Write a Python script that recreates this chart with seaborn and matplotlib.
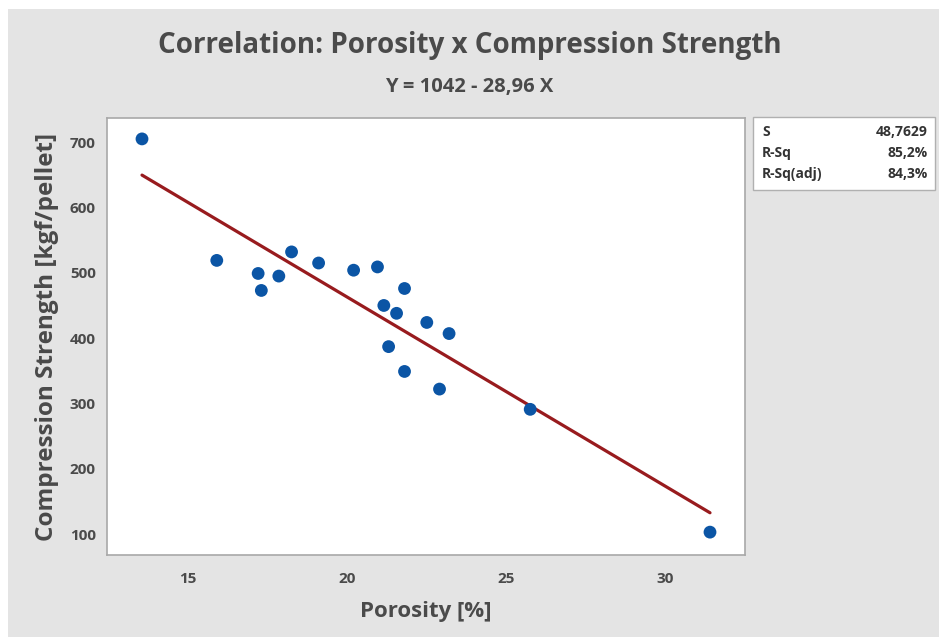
import numpy as np
import pandas as pd
import matplotlib
matplotlib.use("Agg")
import matplotlib.pyplot as plt
from matplotlib.patches import Rectangle
import seaborn as sns

# values
porosity = [13.55, 15.9, 17.2, 17.3, 17.85, 18.25, 19.1, 20.2, 20.95, 21.15,
            21.55, 21.8, 21.3, 21.8, 22.5, 23.2, 22.9, 25.75, 31.4]
strength = [705, 519, 499, 473, 495, 532, 515, 504, 509, 450,
            438, 476, 387, 349, 424, 407, 322, 291, 103]

intercept = 1042
slope = -28.96
stat_names = ["S", "R-Sq", "R-Sq(adj)"]
stat_values = ["48,7629", "85,2%", "84,3%"]

xticks = [15, 20, 25, 30]
yticks = [100, 200, 300, 400, 500, 600, 700]

df = pd.DataFrame({"porosity": porosity, "strength": strength})
x_fit = np.array([min(porosity), max(porosity)])
fit = pd.DataFrame({"porosity": x_fit, "strength": intercept + slope * x_fit})

sns.set_style("white")
plt.rcParams["font.family"] = ["Open Sans", "DejaVu Sans"]

txt = "#4a4a4a"
bg = "#e4e4e4"

fig = plt.figure(figsize=(9.39, 6.37), dpi=100)
fig.patch.set_facecolor(bg)
# white strips at top and left like the screenshot
fig.patches.append(Rectangle((0, (637 - 9) / 637), 1, 9 / 637, transform=fig.transFigure,
                             facecolor="white", edgecolor="none"))
fig.patches.append(Rectangle((0, 0), 8 / 939, 1, transform=fig.transFigure,
                             facecolor="white", edgecolor="none"))

ax = fig.add_axes([107 / 939, (637 - 555) / 637, (745 - 107) / 939, (555 - 118) / 637])
ax.set_facecolor("white")

sns.lineplot(data=fit, x="porosity", y="strength", color="#981b1e", linewidth=2.3, ax=ax, zorder=2)
sns.scatterplot(data=df, x="porosity", y="strength", color="#0b55a5", s=85,
                edgecolor="none", ax=ax, zorder=3)

ax.set_xlim(12.45, 32.5)
ax.set_ylim(68, 737)
ax.set_xticks(xticks)
ax.set_yticks(yticks)
ax.tick_params(axis="both", which="major", length=4, width=1, color="#a8a8a8",
               labelsize=11, labelcolor=txt, direction="out", pad=4)
for lab in ax.get_xticklabels() + ax.get_yticklabels():
    lab.set_fontweight("bold")
ax.tick_params(axis="x", pad=8)
for sp in ax.spines.values():
    sp.set_color("#a8a8a8")
    sp.set_linewidth(1.2)

ax.set_xlabel("Porosity [%]", fontsize=16, fontweight="bold", color=txt, labelpad=11)
ax.set_ylabel("Compression Strength [kgf/pellet]", fontsize=17.5, fontweight="bold",
              color=txt, labelpad=8)

fig.text(0.5, (637 - 46) / 637, "Correlation: Porosity x Compression Strength",
         ha="center", va="center", fontsize=20, fontweight="bold", color=txt)
fig.text(0.5, (637 - 87) / 637, "Y = 1042 - 28,96 X",
         ha="center", va="center", fontsize=14.5, fontweight="bold", color=txt)

# stats box
bx0, by0, bx1, by1 = 753, 117, 935, 190
fig.patches.append(Rectangle((bx0 / 939, (637 - by1) / 637), (bx1 - bx0) / 939, (by1 - by0) / 637,
                             transform=fig.transFigure, facecolor="white",
                             edgecolor="#b0b0b0", linewidth=1))
for i, (n, v) in enumerate(zip(stat_names, stat_values)):
    yy = (637 - (132 + i * 21)) / 637
    fig.text((bx0 + 9) / 939, yy, n, ha="left", va="center", fontsize=10,
             fontweight="bold", color="#333333")
    fig.text((bx1 - 7) / 939, yy, v, ha="right", va="center", fontsize=10,
             fontweight="bold", color="#333333")

fig.savefig("out.png", dpi=100, facecolor=fig.get_facecolor())
